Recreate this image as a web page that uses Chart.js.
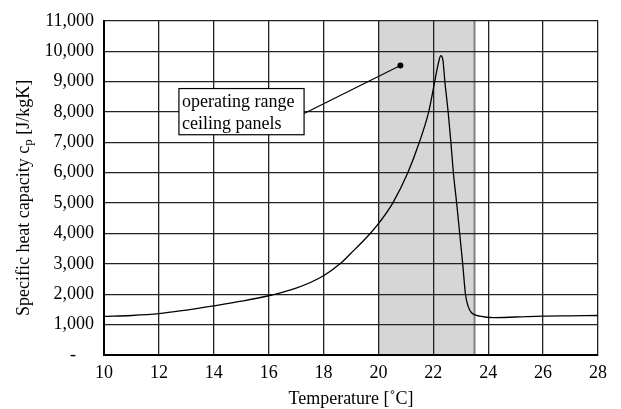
<!DOCTYPE html>
<html>
<head>
<meta charset="utf-8">
<script src="https://cdn.jsdelivr.net/npm/chart.js@4"></script>
<style>
  body { margin: 0; background: #fff; }
  canvas { display: block; }
</style>
</head>
<body>
<canvas id="cpChart" width="621" height="409"></canvas>
<script>
// values
var temps = [10, 11, 12, 13, 14, 15, 16, 17, 18, 18.6, 19, 19.7, 20.05, 20.52, 21.07, 21.49, 21.83, 22.05, 22.17, 22.27, 22.35, 22.42, 22.54, 22.64, 22.73, 22.85, 22.96, 23.07, 23.17, 23.27, 23.39, 23.7, 24.2, 25, 26, 27, 28];
var cp = [1270, 1300, 1360, 1480, 1620, 1770, 1950, 2200, 2610, 3000, 3350, 4000, 4380, 5000, 6000, 7000, 8000, 9000, 9550, 9850, 9700, 9000, 8000, 7000, 6000, 5000, 4000, 3000, 2000, 1600, 1390, 1280, 1230, 1250, 1280, 1290, 1300];
var xTicks = [10, 12, 14, 16, 18, 20, 22, 24, 26, 28];
var yTicks = [0, 1000, 2000, 3000, 4000, 5000, 6000, 7000, 8000, 9000, 10000, 11000];
var operatingRange = [20, 23.5];
var labelLines = ['operating range', 'ceiling panels'];
var labelPoint = [20.8, 9530];

var FONT = '"Liberation Serif", "Times New Roman", serif';
var ctx = document.getElementById('cpChart').getContext('2d');

var points = temps.map(function (t, i) { return { x: t, y: cp[i] }; });

var bandPlugin = {
  id: 'band',
  beforeDraw: function (chart) {
    var c = chart.ctx, x = chart.scales.x, a = chart.chartArea;
    var x0 = x.getPixelForValue(operatingRange[0]);
    var x1 = x.getPixelForValue(operatingRange[1]);
    c.save();
    c.fillStyle = '#d6d6d6';
    c.fillRect(x0, a.top, x1 - x0, a.bottom - a.top);
    c.strokeStyle = '#808080';
    c.lineWidth = 2;
    c.beginPath();
    c.moveTo(x1, a.top); c.lineTo(x1, a.bottom);
    c.stroke();
    c.restore();
  }
};

var labelPlugin = {
  id: 'labels',
  afterDraw: function (chart) {
    var c = chart.ctx, x = chart.scales.x, y = chart.scales.y, a = chart.chartArea;
    c.save();
    // annotation box + leader line
    var bx0 = x.getPixelForValue(12.73), bx1 = x.getPixelForValue(17.29);
    var by0 = y.getPixelForValue(8770), by1 = y.getPixelForValue(7250);
    var px = x.getPixelForValue(labelPoint[0]), py = y.getPixelForValue(labelPoint[1]);
    c.strokeStyle = '#000';
    c.lineWidth = 1.2;
    c.beginPath();
    c.moveTo(bx1, y.getPixelForValue(7950));
    c.lineTo(px, py);
    c.stroke();
    c.fillStyle = '#000';
    c.beginPath();
    c.arc(px, py, 3, 0, Math.PI * 2);
    c.fill();
    c.fillStyle = '#fff';
    c.fillRect(bx0, by0, bx1 - bx0, by1 - by0);
    c.strokeRect(bx0, by0, bx1 - bx0, by1 - by0);
    c.fillStyle = '#000';
    c.font = '18px ' + FONT;
    c.textBaseline = 'middle';
    c.textAlign = 'left';
    c.fillText(labelLines[0], bx0 + 3, by0 + 14);
    c.fillText(labelLines[1], bx0 + 3, by0 + 36);

    // x axis title
    c.textAlign = 'center';
    c.fillText('Temperature [\u02DAC]', (a.left + a.right) / 2, 399);

    // y axis title with subscript p
    c.translate(24, (a.top + a.bottom) / 2 + 10);
    c.rotate(-Math.PI / 2);
    var main = 'Specific heat capacity c';
    var tail = ' [J/kgK]';
    c.font = '18px ' + FONT;
    var w1 = c.measureText(main).width, w3 = c.measureText(tail).width;
    c.font = '13px ' + FONT;
    var w2 = c.measureText('p').width;
    var start = -(w1 + w2 + w3) / 2;
    c.textAlign = 'left';
    c.font = '18px ' + FONT;
    c.fillText(main, start, 0);
    c.font = '13px ' + FONT;
    c.fillText('p', start + w1, 5);
    c.font = '18px ' + FONT;
    c.fillText(tail, start + w1 + w2, 0);
    c.restore();
  }
};

new Chart(ctx, {
  type: 'line',
  data: {
    datasets: [
      {
        label: 'cp',
        data: points,
        borderColor: '#000',
        borderWidth: 1.3,
        pointRadius: 0,
        fill: false,
        cubicInterpolationMode: 'monotone'
      }
    ]
  },
  options: {
    responsive: false,
    animation: false,
    layout: { padding: { left: 0, top: 18, right: 23, bottom: 0 } },
    plugins: { legend: { display: false }, tooltip: { enabled: false } },
    scales: {
      x: {
        type: 'linear',
        min: 10,
        max: 28,
        afterFit: function (s) { s.height = 54; },
        afterBuildTicks: function (s) { s.ticks = xTicks.map(function (v) { return { value: v }; }); },
        grid: { color: '#222', lineWidth: 1.3, drawTicks: false },
        border: { color: '#000', width: 2 },
        ticks: { color: '#000', padding: 7, font: { family: FONT, size: 18 } }
      },
      y: {
        min: 0,
        max: 11000,
        afterFit: function (s) { s.width = 104; },
        afterBuildTicks: function (s) { s.ticks = yTicks.map(function (v) { return { value: v }; }); },
        grid: { color: '#222', lineWidth: 1.3, drawTicks: false },
        border: { color: '#000', width: 2 },
        ticks: {
          color: '#000',
          padding: 10,
          font: { family: FONT, size: 18 },
          callback: function (v) { return v === 0 ? '-    ' : v.toLocaleString('en-US'); }
        }
      }
    }
  },
  plugins: [bandPlugin, labelPlugin]
});
</script>
</body>
</html>
